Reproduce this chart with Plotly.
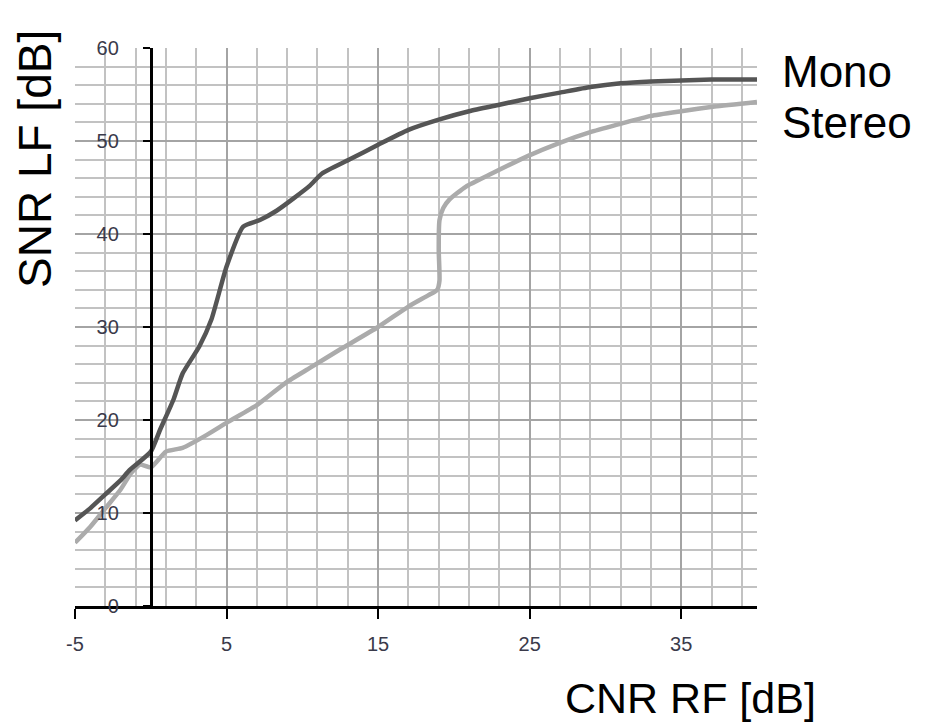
import plotly.graph_objects as go

mono_x = [-5, -4, -3, -2, -1.4, 0, 0.6, 1.5, 2.1, 3.2, 4.0, 5.0, 6.1, 7.2, 8.3, 9.4, 10.5, 11.3,
          13.1, 15.0, 17.0, 19.0, 21.0, 23.0, 25.0, 27.0, 29.0, 31.0, 33.0, 35.0, 37.0, 40.0]
mono_y = [9.2, 10.5, 12.0, 13.5, 14.6, 16.6, 18.9, 22.2, 25.0, 27.9, 30.8, 36.5, 40.8, 41.5, 42.5,
          43.8, 45.2, 46.5, 48.0, 49.6, 51.2, 52.3, 53.2, 53.9, 54.6, 55.2, 55.8, 56.2, 56.4, 56.5,
          56.6, 56.6]

stereo_x = [-5, -4, -3, -2, -1.3, -0.7, 0, 1.0, 2.1, 3.7, 5.1, 7.0, 8.9, 10.5, 12.4, 15.0, 17.0,
            18.3, 18.9, 19.05, 19.0, 19.05, 19.3, 19.7, 20.8, 22.5, 24.9, 26.9, 29.1, 31.1, 33.0,
            35.0, 37.2, 40.0]
stereo_y = [6.8, 8.5, 10.5, 12.5, 14.3, 15.2, 14.9, 16.6, 17.0, 18.4, 19.8, 21.6, 24.0, 25.6,
            27.5, 30.0, 32.2, 33.4, 34.0, 35.0, 38.3, 41.5, 42.8, 43.7, 45.1, 46.5, 48.4, 49.75,
            51.0, 51.9, 52.7, 53.2, 53.7, 54.2]

x_tickvals = [-5, 5, 15, 25, 35]
x_ticktext = ["-5", "5", "15", "25", "35"]
y_tickvals = [0, 10, 20, 30, 40, 50, 60]
y_ticktext = ["0", "10", "20", "30", "40", "50", "60"]

x_title = "CNR RF [dB]"
y_title = "SNR LF [dB]"
series_names = ["Mono", "Stereo"]

FONT = "Liberation Sans, Arial, sans-serif"

# page body has an 8px default margin; figure is sized to fit inside the window
W, H = 922, 720
L, T = 67, 40
PW, PH = 682, 558

fig = go.Figure()
fig.add_trace(go.Scatter(x=stereo_x, y=stereo_y, mode="lines", name=series_names[1],
                         line=dict(color="#ababab", width=4.5, shape="spline", smoothing=0.5)))
fig.add_trace(go.Scatter(x=mono_x, y=mono_y, mode="lines", name=series_names[0],
                         line=dict(color="#555555", width=4.5, shape="spline", smoothing=0.5)))


def px(xp):
    return (xp - 8 - L) / PW


def py(yp):
    return (T + PH - (yp - 8)) / PH


fig.update_layout(
    width=W, height=H,
    margin=dict(l=L, r=W - L - PW, t=T, b=H - T - PH),
    paper_bgcolor="white", plot_bgcolor="white",
    showlegend=False,
    font=dict(family=FONT, color="#000"),
    xaxis=dict(
        range=[-5, 40], tickvals=x_tickvals, ticktext=x_ticktext,
        showgrid=True, gridcolor="#a4a4a4", gridwidth=2,
        minor=dict(tick0=-5, dtick=2, showgrid=True, gridcolor="#c2c2c2", gridwidth=2),
        showline=True, linecolor="#000", linewidth=3,
        ticks="outside", ticklen=10, tickwidth=2, tickcolor="#000",
        ticklabelstandoff=8,
        tickfont=dict(size=20, color="#3a3a4a"),
        zeroline=False, automargin=False,
    ),
    yaxis=dict(
        range=[0, 60], tickvals=y_tickvals, ticktext=y_ticktext,
        anchor="free", position=5 / 45,
        showgrid=True, gridcolor="#a4a4a4", gridwidth=2,
        minor=dict(tick0=0, dtick=2, showgrid=True, gridcolor="#c2c2c2", gridwidth=2),
        showline=True, linecolor="#000", linewidth=3,
        ticks="outside", ticklen=7, tickwidth=2, tickcolor="#000",
        ticklabelstandoff=20,
        tickfont=dict(size=20, color="#3a3a4a"),
        zeroline=False, automargin=False,
    ),
    annotations=[
        dict(text=y_title, xref="paper", yref="paper", x=px(35), y=py(159),
             xanchor="center", yanchor="middle", textangle=-90, showarrow=False,
             font=dict(size=46, color="#000")),
        dict(text=x_title, xref="paper", yref="paper", x=px(690), y=py(698),
             xanchor="center", yanchor="middle", showarrow=False,
             font=dict(size=43, color="#000")),
        dict(text=series_names[0], xref="paper", yref="paper", x=px(780),
             y=py(72), xanchor="left", yanchor="middle", showarrow=False,
             font=dict(size=44, color="#000")),
        dict(text=series_names[1], xref="paper", yref="paper", x=px(780),
             y=py(122), xanchor="left", yanchor="middle", showarrow=False,
             font=dict(size=44, color="#000")),
    ],
)

fig.write_html("out.html")
